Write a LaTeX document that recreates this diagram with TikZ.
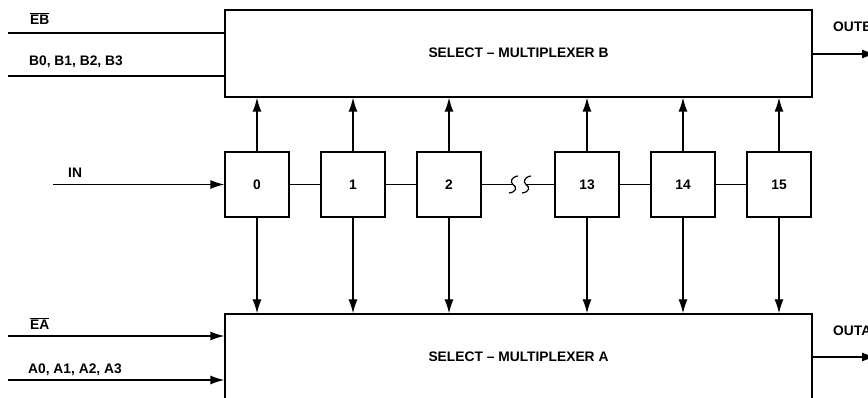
\documentclass[tikz,border=0pt]{standalone}
\usepackage{fontspec}
\setmainfont{Liberation Sans}
\usetikzlibrary{arrows.meta}
\begin{document}
\begin{tikzpicture}[x=1pt,y=-1pt,
  lw/.style={line width=1.3pt},
  txt/.style={font=\fontsize{13.8}{16}\selectfont\bfseries, inner sep=0pt},
  mux/.style={draw, lw, minimum width=587pt, inner sep=0pt},
  cell/.style={draw, lw, minimum width=64pt, minimum height=65pt, inner sep=0pt, font=\fontsize{13.8}{16}\selectfont\bfseries},
  arr/.style={lw, -{Latex[length=14pt,width=9pt]}},
  ln/.style={lw}]
\useasboundingbox (0,0) rectangle (868,398);
\clip (0,0) rectangle (868,398);
% multiplexers
\node[mux, minimum height=87pt] (muxB) at (518.5,53.5) {};
\node[mux, minimum height=120pt] (muxA) at (518.5,374) {};
\node[txt] (tB) at (518.5,53) {SELECT -- MULTIPLEXER B};
\node[txt] (tA) at (518.5,357) {SELECT -- MULTIPLEXER A};
% cells
\node[cell] (c0) at (257,184.5) {0};
\node[cell] (c1) at (353,184.5) {1};
\node[cell] (c2) at (449,184.5) {2};
\node[cell] (c13) at (587,184.5) {13};
\node[cell] (c14) at (683,184.5) {14};
\node[cell] (c15) at (779,184.5) {15};
% chain
\draw[ln] (c0.east) -- (c1.west);
\draw[ln] (c1.east) -- (c2.west);
\draw[ln] (c13.east) -- (c14.west);
\draw[ln] (c14.east) -- (c15.west);
\coordinate (s1) at (513,184.5);
\coordinate (s2) at (526,184.5);
\draw[ln] (c2.east) -- (s1);
\draw[ln] (s2) -- (c13.west);
\draw[line width=1.2pt] (518,176) .. controls (511,177) and (510,182) .. (s1) .. controls (517,187) and (517,192) .. (509,193);
\draw[line width=1.2pt] (531,176) .. controls (524,177) and (523,182) .. (s2) .. controls (530,187) and (530,192) .. (522,193);
% vertical arrows
\foreach \c in {c0,c1,c2,c13,c14,c15}{
  \draw[arr] (\c.north) -- (\c.north |- muxB.south);
  \draw[arr] (\c.south) -- (\c.south |- muxA.north);
}
% inputs
\coordinate (inS) at (53,184.5);
\draw[arr] (inS) -- (c0.west);
\node[txt, anchor=west] (lIN) at (68,173) {IN};
\coordinate (ebS) at (8,33);
\coordinate (bS) at (8,76);
\draw[ln] (ebS) -- (ebS -| muxB.west);
\draw[ln] (bS) -- (bS -| muxB.west);
\node[txt, anchor=west] (lEB) at (30,18.5) {$\overline{\hbox{EB}}$};
\node[txt, anchor=west] (lB) at (29,61.5) {B0, B1, B2, B3};
\coordinate (eaS) at (8,336);
\coordinate (aS) at (8,380);
\draw[arr] (eaS) -- (eaS -| muxA.west);
\draw[arr] (aS) -- (aS -| muxA.west);
\node[txt, anchor=west] (lEA) at (30,323.5) {$\overline{\hbox{EA}}$};
\node[txt, anchor=west] (lA) at (28,370) {A0, A1, A2, A3};
% outputs
\coordinate (oB) at (876,54);
\coordinate (oA) at (876,357);
\draw[arr] (muxB.east |- oB) -- (oB);
\draw[arr] (muxA.east |- oA) -- (oA);
\node[txt, anchor=west] (lOB) at (833,27) {OUTB};
\node[txt, anchor=west] (lOA) at (833,330.5) {OUTA};
\end{tikzpicture}
\end{document}
